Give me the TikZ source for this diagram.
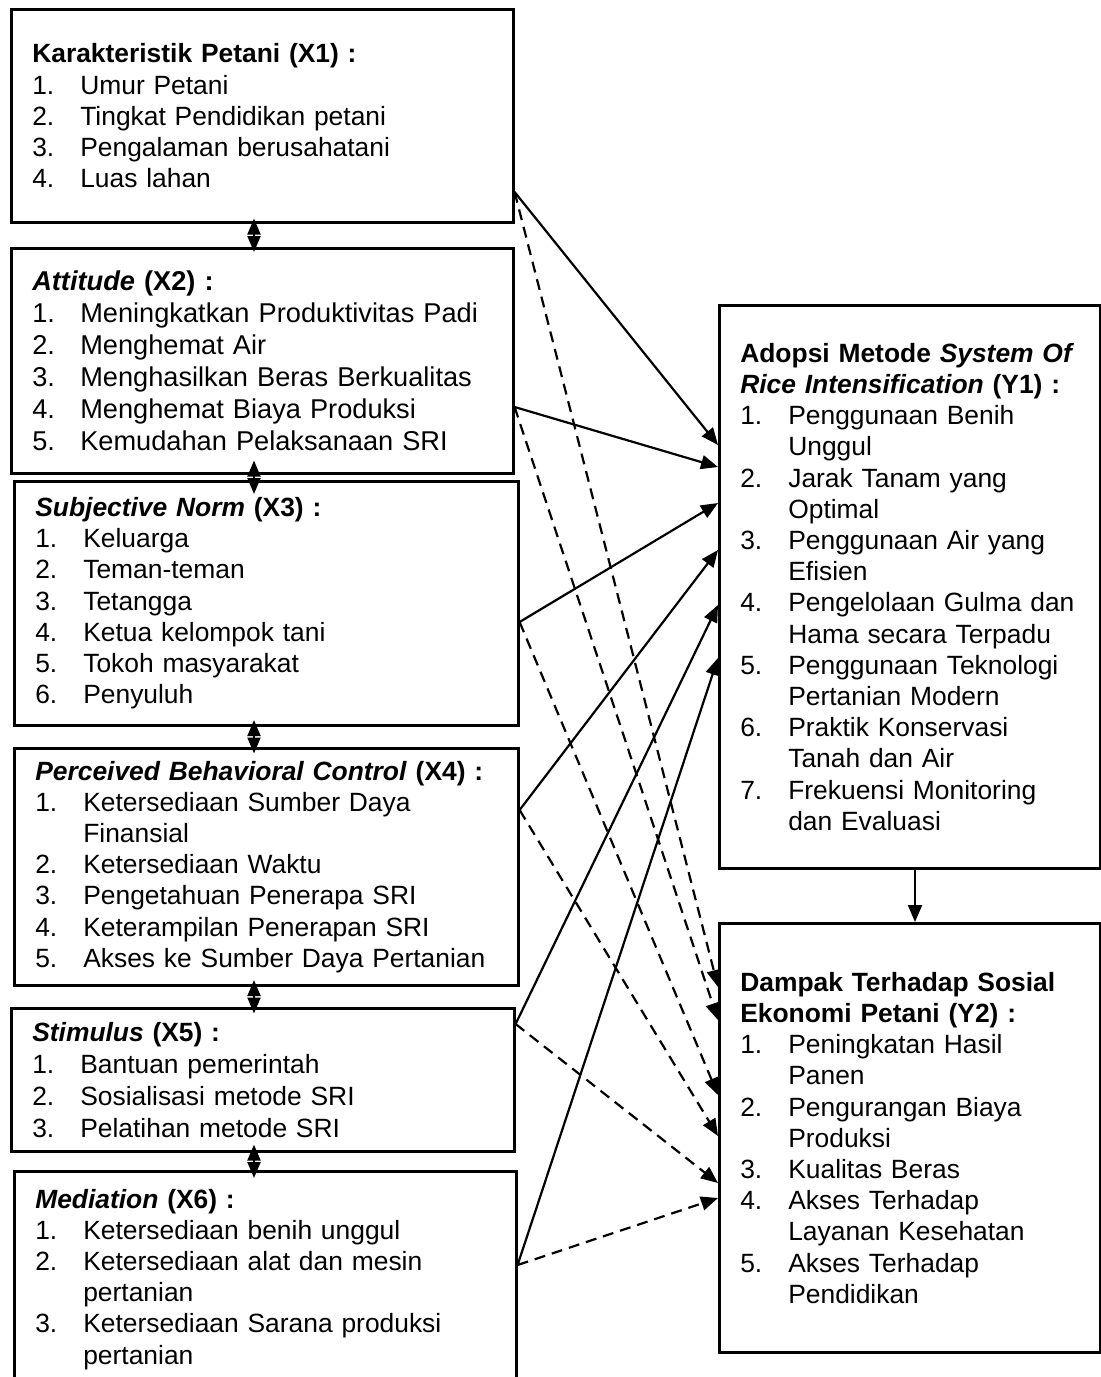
\documentclass[tikz,border=0pt]{standalone}
\usepackage{fontspec}
\setmainfont{Liberation Sans}
\usetikzlibrary{arrows.meta,calc}
\newlength{\numw}
\setlength{\numw}{24pt}
\newcommand{\li}[2]{\mbox{\makebox[\numw][l]{#1}#2}}
\newcommand{\lc}[1]{\mbox{\hspace*{\numw}#1}}

\begin{document}
\begin{tikzpicture}[x=0.5pt,y=-0.5pt,
    box/.style={draw,line width=1.3pt,anchor=north west,inner xsep=10.5pt,inner ysep=0pt,align=left,font=\fontsize{13.2}{15.6}\selectfont},
    pth/.style={-{Triangle[length=8.5pt,width=7pt]},line width=1.1pt},
    dsh/.style={pth,dash pattern=on 5.5pt off 3.5pt},
    dbl/.style={{Triangle[length=8pt,width=6.5pt]}-{Triangle[length=8pt,width=6.5pt]},line width=1.1pt,shorten <=-#1,shorten >=-#1}]
\clip (0,0) rectangle (1101,1377);

\node[box,text width=230pt,minimum height=106.5pt] at (10,8) (x1) {\textbf{Karakteristik Petani (X1) :}\\
    \li{1.}{Umur Petani}\\
    \li{2.}{Tingkat Pendidikan petani}\\
    \li{3.}{Pengalaman berusahatani}\\
    \li{4.}{Luas lahan}};
\node[box,text width=230pt,minimum height=112.5pt,font=\fontsize{13.6}{16}\selectfont] at (10,247) (x2) {\textbf{\textit{Attitude} (X2) :}\\
    \li{1.}{Meningkatkan Produktivitas Padi}\\
    \li{2.}{Menghemat Air}\\
    \li{3.}{Menghasilkan Beras Berkualitas}\\
    \li{4.}{Menghemat Biaya Produksi}\\
    \li{5.}{Kemudahan Pelaksanaan SRI}};
\node[box,text width=231pt,minimum height=122pt] at (13,480) (x3) {\textbf{\textit{Subjective Norm} (X3) :}\\
    \li{1.}{Keluarga}\\
    \li{2.}{Teman-teman}\\
    \li{3.}{Tetangga}\\
    \li{4.}{Ketua kelompok tani}\\
    \li{5.}{Tokoh masyarakat}\\
    \li{6.}{Penyuluh}};
\node[box,text width=231pt,minimum height=118.5pt] at (13,747) (x4) {\textbf{\textit{Perceived Behavioral Control} (X4) :}\\
    \li{1.}{Ketersediaan Sumber Daya}\\
    \lc{Finansial}\\
    \li{2.}{Ketersediaan Waktu}\\
    \li{3.}{Pengetahuan Penerapa SRI}\\
    \li{4.}{Keterampilan Penerapan SRI}\\
    \li{5.}{Akses ke Sumber Daya Pertanian}};
\node[box,text width=230.5pt,minimum height=71.5pt,font=\fontsize{13.2}{16}\selectfont] at (10,1007) (x5) {\textbf{\textit{Stimulus} (X5) :}\\
    \li{1.}{Bantuan pemerintah}\\
    \li{2.}{Sosialisasi metode SRI}\\
    \li{3.}{Pelatihan metode SRI}};
\node[box,text width=230pt,minimum height=108pt] at (13,1170) (x6) {\textbf{\textit{Mediation} (X6) :}\\
    \li{1.}{Ketersediaan benih unggul}\\
    \li{2.}{Ketersediaan alat dan mesin}\\
    \lc{pertanian}\\
    \li{3.}{Ketersediaan Sarana produksi}\\
    \lc{pertanian}};

\node[box,text width=169.5pt,minimum height=281.5pt] at (718,304) (y1) {\textbf{Adopsi Metode \textit{System Of}}\\
    \textbf{\textit{Rice Intensification} (Y1) :}\\
    \li{1.}{Penggunaan Benih}\\
    \lc{Unggul}\\
    \li{2.}{Jarak Tanam yang}\\
    \lc{Optimal}\\
    \li{3.}{Penggunaan Air yang}\\
    \lc{Efisien}\\
    \li{4.}{Pengelolaan Gulma dan}\\
    \lc{Hama secara Terpadu}\\
    \li{5.}{Penggunaan Teknologi}\\
    \lc{Pertanian Modern}\\
    \li{6.}{Praktik Konservasi}\\
    \lc{Tanah dan Air}\\
    \li{7.}{Frekuensi Monitoring}\\
    \lc{dan Evaluasi}};
\node[box,text width=169.5pt,minimum height=214.5pt] at (718,922) (y2) {\textbf{Dampak Terhadap Sosial}\\
    \textbf{Ekonomi Petani (Y2) :}\\
    \li{1.}{Peningkatan Hasil}\\
    \lc{Panen}\\
    \li{2.}{Pengurangan Biaya}\\
    \lc{Produksi}\\
    \li{3.}{Kualitas Beras}\\
    \li{4.}{Akses Terhadap}\\
    \lc{Layanan Kesehatan}\\
    \li{5.}{Akses Terhadap}\\
    \lc{Pendidikan}};

\coordinate (lx) at (254,0);
\coordinate (rx) at (915,0);
\draw[dbl=2.5pt] (x1.south -| lx) -- (x2.north -| lx);
\draw[dbl=7pt] (x2.south -| lx) -- (x3.north -| lx);
\draw[dbl=3.25pt] (x3.south -| lx) -- (x4.north -| lx);
\draw[dbl=3.25pt] (x4.south -| lx) -- (x5.north -| lx);
\draw[dbl=4pt] (x5.south -| lx) -- (x6.north -| lx);
\draw[pth] (y1.south -| rx) -- (y2.north -| rx);

\draw[pth] ($(x1.north east)+(0,184)$) -- ($(y1.north west)+(0,141)$);
\draw[pth] ($(x2.north east)+(0,160)$) -- ($(y1.north west)+(0,163)$);
\draw[pth] ($(x3.north east)+(0,142)$) -- ($(y1.north west)+(0,199)$);
\draw[pth] ($(x4.north east)+(0,63)$) -- ($(y1.north west)+(0,246)$);
\draw[pth] ($(x5.north east)+(0,17)$) -- ($(y1.north west)+(0,301)$);
\draw[pth] ($(x6.north east)+(0,95)$) -- ($(y1.north west)+(0,354)$);

\draw[dsh] ($(x1.north east)+(0,184)$) -- ($(y2.north west)+(0,65)$);
\draw[dsh] ($(x2.north east)+(0,160)$) -- ($(y2.north west)+(0,98)$);
\draw[dsh] ($(x3.north east)+(0,142)$) -- ($(y2.north west)+(0,173)$);
\draw[dsh] ($(x4.north east)+(0,63)$) -- ($(y2.north west)+(0,214)$);
\draw[dsh] ($(x5.north east)+(0,17)$) -- ($(y2.north west)+(0,261)$);
\draw[dsh] ($(x6.north east)+(0,95)$) -- ($(y2.north west)+(0,276)$);
\end{tikzpicture}
\end{document}
